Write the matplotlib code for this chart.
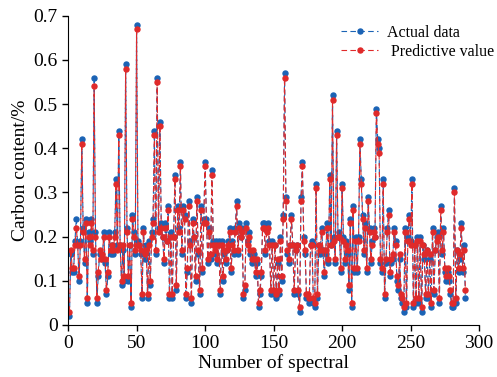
import numpy as np
import matplotlib
matplotlib.use("Agg")
import matplotlib.pyplot as plt

plt.rcParams['font.family'] = ['Liberation Serif', 'DejaVu Serif']

# carbon content, samples 1..290
actual = [
    0.02, 0.16, 0.12, 0.12, 0.19, 0.24, 0.18, 0.10, 0.19, 0.42,
    0.22, 0.14, 0.24, 0.05, 0.21, 0.19, 0.24, 0.16, 0.56, 0.21,
    0.05, 0.11, 0.16, 0.16, 0.15, 0.21, 0.14, 0.07, 0.11, 0.21,
    0.16, 0.18, 0.16, 0.21, 0.33, 0.18, 0.44, 0.18, 0.09, 0.17,
    0.10, 0.59, 0.22, 0.10, 0.18, 0.04, 0.25, 0.21, 0.16, 0.68,
    0.19, 0.18, 0.16, 0.06, 0.22, 0.15, 0.18, 0.06, 0.19, 0.09,
    0.21, 0.24, 0.44, 0.16, 0.56, 0.22, 0.46, 0.23, 0.20, 0.14,
    0.23, 0.19, 0.27, 0.06, 0.21, 0.06, 0.20, 0.34, 0.08, 0.27,
    0.22, 0.37, 0.16, 0.27, 0.25, 0.06, 0.12, 0.28, 0.19, 0.05,
    0.24, 0.20, 0.10, 0.29, 0.16, 0.07, 0.27, 0.12, 0.24, 0.37,
    0.24, 0.14, 0.22, 0.15, 0.35, 0.19, 0.16, 0.19, 0.14, 0.19,
    0.07, 0.19, 0.10, 0.16, 0.14, 0.17, 0.19, 0.22, 0.12, 0.19,
    0.16, 0.22, 0.28, 0.16, 0.23, 0.20, 0.22, 0.06, 0.08, 0.23,
    0.19, 0.21, 0.16, 0.14, 0.16, 0.16, 0.11, 0.14, 0.04, 0.07,
    0.11, 0.23, 0.23, 0.16, 0.22, 0.23, 0.19, 0.07, 0.19, 0.07,
    0.18, 0.06, 0.14, 0.07, 0.20, 0.10, 0.25, 0.57, 0.29, 0.16,
    0.14, 0.18, 0.25, 0.18, 0.07, 0.17, 0.18, 0.07, 0.03, 0.29,
    0.37, 0.20, 0.16, 0.06, 0.06, 0.05, 0.18, 0.19, 0.05, 0.04,
    0.32, 0.06, 0.18, 0.16, 0.22, 0.17, 0.11, 0.16, 0.23, 0.14,
    0.34, 0.18, 0.52, 0.20, 0.14, 0.44, 0.20, 0.21, 0.12, 0.32,
    0.20, 0.14, 0.19, 0.16, 0.08, 0.24, 0.04, 0.27, 0.12, 0.20,
    0.12, 0.20, 0.42, 0.33, 0.25, 0.16, 0.23, 0.12, 0.29, 0.22,
    0.14, 0.19, 0.22, 0.20, 0.49, 0.42, 0.40, 0.14, 0.12, 0.33,
    0.06, 0.14, 0.22, 0.26, 0.11, 0.14, 0.15, 0.22, 0.19, 0.10,
    0.08, 0.15, 0.06, 0.05, 0.03, 0.22, 0.04, 0.20, 0.25, 0.19,
    0.33, 0.04, 0.18, 0.05, 0.20, 0.05, 0.20, 0.03, 0.18, 0.15,
    0.06, 0.17, 0.06, 0.15, 0.04, 0.22, 0.07, 0.17, 0.20, 0.21,
    0.05, 0.27, 0.16, 0.22, 0.12, 0.10, 0.12, 0.10, 0.07, 0.04,
    0.04, 0.31, 0.05, 0.17, 0.12, 0.15, 0.23, 0.12, 0.18, 0.06,
]

predicted = [
    0.03, 0.17, 0.13, 0.13, 0.18, 0.22, 0.18, 0.11, 0.18, 0.41,
    0.21, 0.15, 0.23, 0.06, 0.20, 0.18, 0.23, 0.17, 0.54, 0.20,
    0.06, 0.12, 0.17, 0.15, 0.16, 0.20, 0.15, 0.08, 0.12, 0.20,
    0.17, 0.18, 0.17, 0.20, 0.32, 0.17, 0.43, 0.18, 0.10, 0.18,
    0.11, 0.58, 0.21, 0.11, 0.18, 0.05, 0.24, 0.20, 0.17, 0.67,
    0.18, 0.18, 0.17, 0.07, 0.21, 0.16, 0.17, 0.07, 0.18, 0.10,
    0.20, 0.23, 0.43, 0.17, 0.55, 0.21, 0.45, 0.22, 0.20, 0.15,
    0.22, 0.19, 0.26, 0.07, 0.20, 0.07, 0.20, 0.33, 0.09, 0.26,
    0.21, 0.36, 0.17, 0.26, 0.24, 0.07, 0.13, 0.27, 0.18, 0.06,
    0.23, 0.20, 0.11, 0.28, 0.17, 0.08, 0.26, 0.13, 0.23, 0.36,
    0.23, 0.15, 0.21, 0.16, 0.34, 0.18, 0.17, 0.18, 0.15, 0.18,
    0.08, 0.18, 0.11, 0.17, 0.15, 0.17, 0.18, 0.21, 0.13, 0.18,
    0.17, 0.21, 0.27, 0.17, 0.22, 0.20, 0.21, 0.07, 0.09, 0.22,
    0.18, 0.20, 0.17, 0.15, 0.17, 0.15, 0.12, 0.15, 0.05, 0.08,
    0.12, 0.22, 0.22, 0.17, 0.21, 0.22, 0.18, 0.08, 0.18, 0.08,
    0.18, 0.07, 0.15, 0.08, 0.19, 0.11, 0.24, 0.56, 0.28, 0.17,
    0.15, 0.18, 0.24, 0.18, 0.08, 0.17, 0.18, 0.08, 0.04, 0.28,
    0.36, 0.19, 0.17, 0.07, 0.07, 0.06, 0.18, 0.18, 0.06, 0.05,
    0.31, 0.07, 0.18, 0.17, 0.21, 0.17, 0.12, 0.17, 0.22, 0.15,
    0.33, 0.18, 0.51, 0.19, 0.15, 0.43, 0.20, 0.20, 0.13, 0.31,
    0.19, 0.15, 0.18, 0.17, 0.09, 0.23, 0.05, 0.26, 0.13, 0.19,
    0.13, 0.19, 0.41, 0.32, 0.24, 0.17, 0.22, 0.13, 0.28, 0.21,
    0.15, 0.18, 0.21, 0.20, 0.48, 0.41, 0.39, 0.15, 0.13, 0.32,
    0.07, 0.15, 0.21, 0.25, 0.12, 0.15, 0.16, 0.21, 0.18, 0.11,
    0.09, 0.16, 0.07, 0.06, 0.04, 0.21, 0.05, 0.19, 0.24, 0.18,
    0.32, 0.05, 0.18, 0.06, 0.19, 0.06, 0.19, 0.04, 0.18, 0.16,
    0.07, 0.17, 0.07, 0.16, 0.05, 0.21, 0.08, 0.17, 0.19, 0.20,
    0.06, 0.26, 0.17, 0.21, 0.13, 0.11, 0.13, 0.11, 0.08, 0.05,
    0.05, 0.30, 0.06, 0.17, 0.13, 0.16, 0.22, 0.13, 0.17, 0.08,
]

samples = np.arange(1, len(actual) + 1)
x_ticks = [0, 50, 100, 150, 200, 250, 300]
y_ticks = [0, 0.1, 0.2, 0.3, 0.4, 0.5, 0.6, 0.7]
y_labels = ['0', '0.1', '0.2', '0.3', '0.4', '0.5', '0.6', '0.7']

fig = plt.figure(figsize=(4.97, 3.77), dpi=100)
ax = fig.add_axes([0.137, 0.138, 0.827, 0.82])

ax.plot(samples, actual, color='#1b63b5', linestyle=(0, (5, 3)), linewidth=0.8,
        marker='o', markersize=3.6, label='Actual data')
ax.plot(samples, predicted, color='#e02a2a', linestyle=(0, (5, 3)), linewidth=0.8,
        marker='o', markersize=3.6, label=' Predictive value')

ax.set_xlim(0, 300)
ax.set_ylim(0, 0.7)
ax.set_xticks(x_ticks)
ax.set_yticks(y_ticks)
ax.set_yticklabels(y_labels)
ax.tick_params(labelsize=14, direction='out', length=4, width=1)
ax.spines['top'].set_visible(False)
ax.spines['right'].set_visible(False)
ax.set_xlabel('Number of spectral', fontsize=14, labelpad=1)
ax.set_ylabel('Carbon content/%', fontsize=14, labelpad=3)

ax.legend(loc='upper left', bbox_to_anchor=(0.686, 0.935), bbox_transform=fig.transFigure,
          frameon=False, fontsize=11.5, handlelength=2.35, handletextpad=0.55,
          labelspacing=0.2, borderpad=0, borderaxespad=0)

fig.savefig('out.png', dpi=100)
